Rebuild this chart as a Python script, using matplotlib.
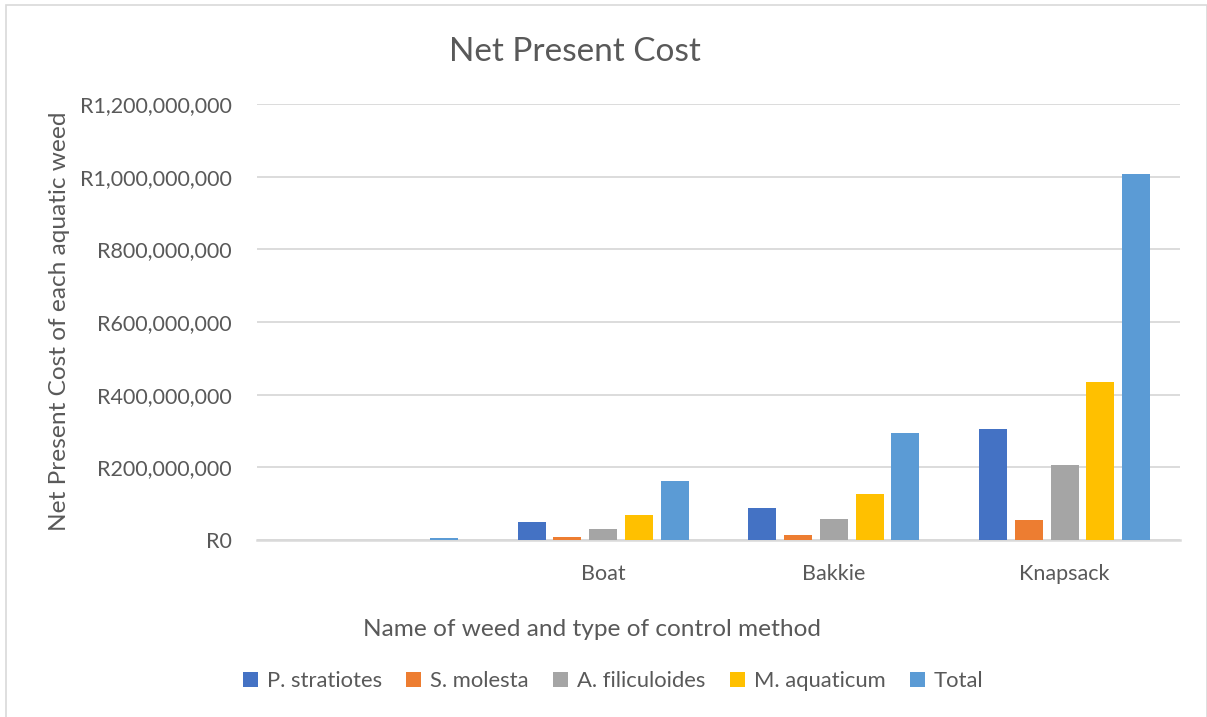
"""Net present cost of aquatic weed control, grouped bar chart."""

import numpy as np
import matplotlib.pyplot as plt
from matplotlib.patches import Rectangle
from matplotlib.ticker import FuncFormatter

# Control methods (first group has no label)
methods = ["", "Boat", "Bakkie", "Knapsack"]

# Net present cost per weed, in rand
p_stratiotes = [0.2e6, 48.7e6, 88.0e6, 304.6e6]
s_molesta = [1.2e6, 7.4e6, 14.7e6, 55.0e6]
a_filiculoides = [0.1e6, 31.0e6, 58.7e6, 205.5e6]
m_aquaticum = [0.3e6, 69.6e6, 125.7e6, 435.7e6]
total = [5.5e6, 162.0e6, 293.6e6, 1007.0e6]

series_names = ["P. stratiotes", "S. molesta", "A. filiculoides", "M. aquaticum", "Total"]
colors = ["#4472C4", "#ED7D31", "#A5A5A5", "#FFC000", "#5B9BD5"]

plt.rcParams["font.family"] = ["Lato", "DejaVu Sans"]
text_color = "#595959"
grid_color = "#D9D9D9"

W, H = 1207, 717
fig = plt.figure(figsize=(W / 100, H / 100), dpi=100)

# light chart-area frame
fig.patches.append(Rectangle((6 / W, -0.01), (W - 6) / W, 1 - 5 / H + 0.01,
                             transform=fig.transFigure, fill=False,
                             edgecolor=grid_color, linewidth=1.2))

ax = fig.add_axes([257 / W, 1 - 540 / H, (1180 - 257) / W, (540 - 104) / H])

x = np.arange(len(methods))
step = 0.155
width = 0.122
all_series = [p_stratiotes, s_molesta, a_filiculoides, m_aquaticum, total]
for i, (vals, name, col) in enumerate(zip(all_series, series_names, colors)):
    ax.bar(x + (i - 2) * step, vals, width, color=col, label=name, zorder=3)

ax.set_xlim(-0.5, len(methods) - 0.5)
ax.set_ylim(0, 1.2e9)
ax.set_yticks(np.arange(0, 1.2e9 + 1, 2e8))
ax.yaxis.set_major_formatter(FuncFormatter(lambda v, _: f"R{v:,.0f}"))
ax.set_xticks(x)
ax.set_xticklabels(methods)

ax.grid(axis="y", color=grid_color, linewidth=1.3, zorder=0)
for s in ["top", "right", "left"]:
    ax.spines[s].set_visible(False)
ax.spines["bottom"].set_color(grid_color)
ax.spines["bottom"].set_linewidth(1.8)

ax.tick_params(axis="both", length=0, labelsize=15.5, colors=text_color)
ax.tick_params(axis="y", pad=18)
ax.tick_params(axis="x", pad=17)

fig.text(575 / W, 1 - 52 / H, "Net Present Cost", ha="center", va="center",
         fontsize=24, color=text_color)
fig.text(60 / W, 1 - 321 / H, "Net Present Cost of each aquatic weed",
         rotation=90, ha="center", va="center", fontsize=17.6, color=text_color)
fig.text(592 / W, 1 - 630 / H, "Name of weed and type of control method",
         ha="center", va="center", fontsize=17.6, color=text_color)

leg = fig.legend(loc="center", bbox_to_anchor=(613 / W, 1 - 681 / H), ncol=5,
                 frameon=False, fontsize=15.8, handlelength=0.7,
                 handleheight=0.7, handletextpad=0.4, columnspacing=1.1)
for t in leg.get_texts():
    t.set_color(text_color)

fig.savefig("out.png", dpi=100)
